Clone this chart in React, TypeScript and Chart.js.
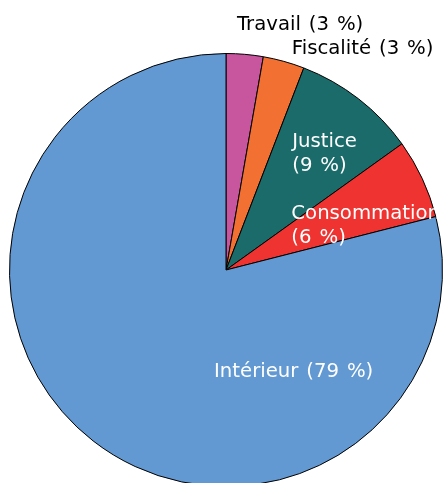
import React, { useEffect, useRef } from "react";
import { Chart, registerables } from "chart.js";

Chart.register(...registerables);

const categories = ["Travail", "Fiscalité", "Justice", "Consommation", "Intérieur"];
const values = [2.76, 3.09, 9.25, 5.93, 78.97];
const percentLabels = ["3 %", "3 %", "9 %", "6 %", "79 %"];
const colors = ["#c8569f", "#f27031", "#1b6b6b", "#ee3330", "#6399d2"];

// label layout: lines, anchor offset as fraction of radius (left/baseline), text colour
const labelLines = [
  ["Travail (3 %)"],
  ["Fiscalité (3 %)"],
  ["Justice", "(9 %)"],
  ["Consommation", "(6 %)"],
  ["Intérieur (79 %)"],
];
const labelDx = [0.0507, 0.304, 0.306, 0.3018, -0.0553];
const labelDy = [-1.1106, -1.0, -0.5668, -0.235, 0.493];
const labelColors = ["#000000", "#000000", "#ffffff", "#ffffff", "#ffffff"];

const FONT_SIZE = 19.7;
const SPACE_EM = 0.4;

function drawSpaced(ctx: CanvasRenderingContext2D, text: string, x: number, y: number) {
  const words = text.split(" ");
  let cx = x;
  words.forEach((w, k) => {
    ctx.fillText(w, cx, y);
    cx += ctx.measureText(w).width;
    if (k < words.length - 1) cx += SPACE_EM * FONT_SIZE;
  });
}

const labelPlugin = {
  id: "sliceLabels",
  afterDraw(chart: any) {
    const meta = chart.getDatasetMeta(0);
    const ctx = chart.ctx as CanvasRenderingContext2D;
    ctx.save();
    ctx.font = `${FONT_SIZE}px 'DejaVu Sans'`;
    ctx.textAlign = "left";
    ctx.textBaseline = "alphabetic";
    meta.data.forEach((arc: any, i: number) => {
      const { x, y, outerRadius } = arc.getProps(["x", "y", "outerRadius"], true);
      const R = outerRadius;
      const lx = x + labelDx[i] * R;
      const ly = y + labelDy[i] * R;
      ctx.fillStyle = labelColors[i];
      labelLines[i].forEach((line, j) => {
        drawSpaced(ctx, line, lx, ly + j * 24);
      });
    });
    ctx.restore();
  },
};

export default function App() {
  const ref = useRef<HTMLCanvasElement | null>(null);
  useEffect(() => {
    document.body.style.margin = "0";
    document.body.style.overflow = "hidden";
    const canvas = ref.current!;
    const chart = new Chart(canvas, {
      type: "pie",
      data: {
        labels: categories.map((c, i) => `${c} (${percentLabels[i]})`),
        datasets: [
          {
            data: values,
            backgroundColor: colors,
            borderColor: "#000000",
            borderWidth: 1,
            hoverOffset: 0,
            offset: 0,
          },
        ],
      },
      options: {
        animation: false,
        responsive: false,
        maintainAspectRatio: false,
        devicePixelRatio: 1,
        events: [],
        layout: { padding: { left: 9, right: 1, top: 53, bottom: 33 } },
        plugins: {
          legend: { display: false },
          tooltip: { enabled: false },
        },
      },
      plugins: [labelPlugin],
    });
    return () => chart.destroy();
  }, []);
  return (
    <div
      style={{
        position: "fixed",
        left: 0,
        top: 0,
        width: 444,
        height: 483,
        overflow: "hidden",
        background: "#ffffff",
      }}
    >
      <canvas ref={ref} width={444} height={520} style={{ width: 444, height: 520, display: "block" }} />
    </div>
  );
}
